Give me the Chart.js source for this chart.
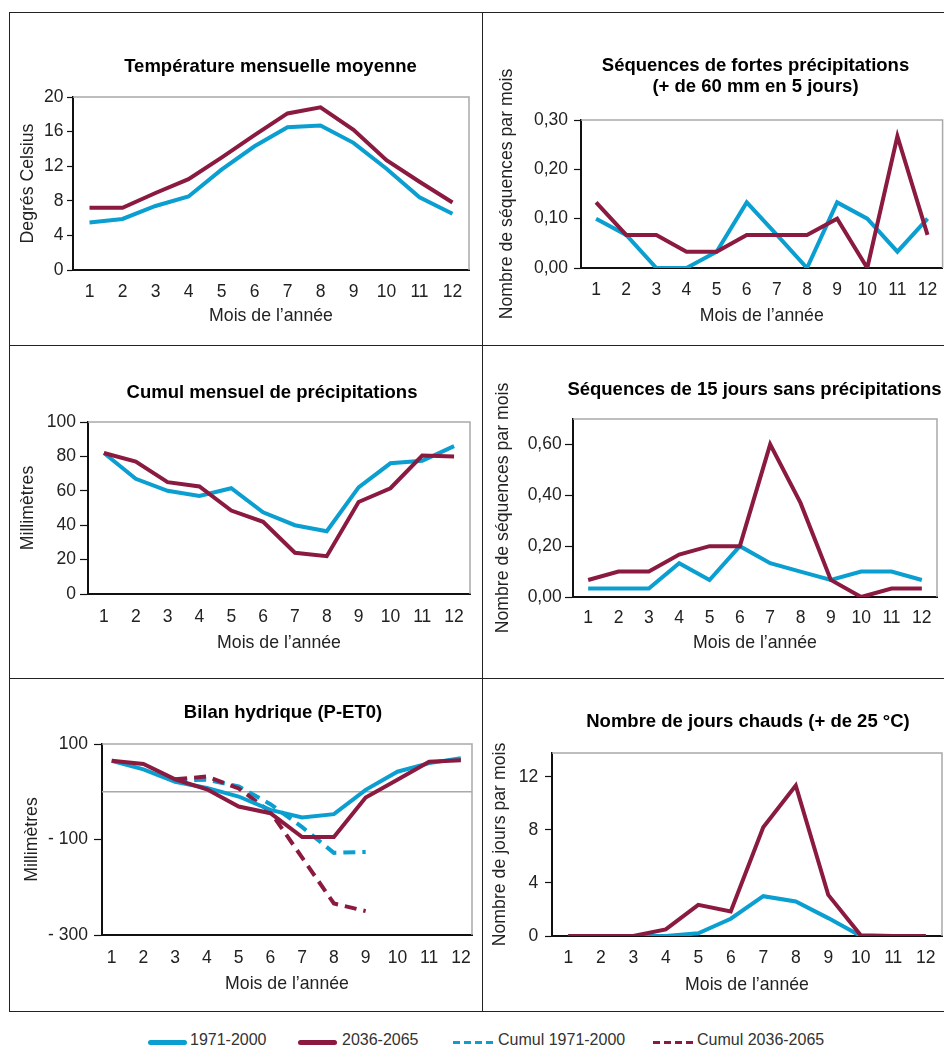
<!DOCTYPE html>
<html><head><meta charset="utf-8">
<script src="https://cdn.jsdelivr.net/npm/chart.js@4.4.1/dist/chart.umd.min.js"></script>
<style>
html,body{margin:0;padding:0;background:#fff;}
body{width:944px;height:1047px;position:relative;overflow:hidden;font-family:'Liberation Sans',Arial,sans-serif;}
.ln{position:absolute;background:#222;}
canvas{position:absolute;}
.lg{position:absolute;font-size:16px;line-height:16px;color:#333;white-space:nowrap;}
.sw{position:absolute;height:5px;border-radius:2.5px;}
.ds{position:absolute;height:3px;width:7px;}
</style></head><body>
<div class="ln" style="left:9px;top:12px;width:935px;height:1px"></div>
<div class="ln" style="left:9px;top:345px;width:935px;height:1px"></div>
<div class="ln" style="left:9px;top:678px;width:935px;height:1px"></div>
<div class="ln" style="left:9px;top:1011px;width:935px;height:1px"></div>
<div class="ln" style="left:9px;top:12px;width:1px;height:1000px"></div>
<div class="ln" style="left:482px;top:12px;width:1px;height:1000px"></div>

<div class="sw" style="left:148px;top:1040px;width:39px;background:#0a9fd0"></div>
<div class="lg" style="left:190px;top:1032px">1971-2000</div>
<div class="sw" style="left:298px;top:1040px;width:39px;background:#8b1a40"></div>
<div class="lg" style="left:342px;top:1032px">2036-2065</div>
<div class="ds" style="left:453px;top:1041px;background:#0a9fd0"></div>
<div class="ds" style="left:464px;top:1041px;background:#0a9fd0"></div>
<div class="ds" style="left:475px;top:1041px;background:#0a9fd0"></div>
<div class="ds" style="left:486px;top:1041px;background:#0a9fd0"></div>
<div class="lg" style="left:498px;top:1032px">Cumul 1971-2000</div>
<div class="ds" style="left:653px;top:1041px;background:#8b1a40"></div>
<div class="ds" style="left:664px;top:1041px;background:#8b1a40"></div>
<div class="ds" style="left:675px;top:1041px;background:#8b1a40"></div>
<div class="ds" style="left:686px;top:1041px;background:#8b1a40"></div>
<div class="lg" style="left:697px;top:1032px">Cumul 2036-2065</div>

<script>
// ---------- DATA ----------
const MONTHS = ['1','2','3','4','5','6','7','8','9','10','11','12'];
const MONTH_NUM = [1,2,3,4,5,6,7,8,9,10,11,12];

const temp1971 = [5.5, 5.9, 7.4, 8.5, 11.6, 14.3, 16.5, 16.7, 14.7, 11.7, 8.4, 6.5];
const temp2036 = [7.2, 7.2, 8.9, 10.5, 13.0, 15.6, 18.1, 18.8, 16.2, 12.7, 10.2, 7.8];

const heavy1971 = [0.100, 0.067, 0, 0, 0.033, 0.133, 0.067, 0, 0.133, 0.100, 0.033, 0.100];
const heavy2036 = [0.133, 0.067, 0.067, 0.033, 0.033, 0.067, 0.067, 0.067, 0.100, 0, 0.267, 0.067];

const precip1971 = [82, 67, 60, 57, 61.5, 47.5, 40, 36.5, 62, 76, 77.5, 86];
const precip2036 = [82, 77, 65, 62.5, 48.5, 42, 24, 22, 53.5, 61.5, 80.5, 80];

const dry1971 = [0.033, 0.033, 0.033, 0.133, 0.067, 0.200, 0.133, 0.100, 0.067, 0.100, 0.100, 0.067];
const dry2036 = [0.067, 0.100, 0.100, 0.167, 0.200, 0.200, 0.600, 0.370, 0.067, 0, 0.033, 0.033];

const bilan1971 = [65, 47, 21, 8, -10, -38, -54, -47, 4, 42, 60, 70];
const bilan2036 = [65, 58, 26, 5, -31, -45, -95, -95, -12, 25, 63, 66];
const cumul1971 = [null, null, 24, 25, 11, -26, -74, -128, -126, null, null, null];
const cumul2036 = [null, null, 26, 32, 7, -42, -138, -234, -250, null, null, null];

const hot1971 = [0, 0, 0, 0, 0.2, 1.3, 3.0, 2.6, 1.35, 0, 0, 0];
const hot2036 = [0, 0, 0, 0.5, 2.35, 1.85, 8.2, 11.35, 3.1, 0.05, 0, 0];

const BLUE = '#0a9fd0', RED = '#8b1a40';
const FONT = "'Liberation Sans', Arial, sans-serif";
Chart.defaults.font.family = FONT;

const plotFrame = {
  id: 'plotFrame',
  beforeDatasetsDraw(chart, args, opts) {
    const {ctx, chartArea: a, scales} = chart;
    ctx.save();
    ctx.strokeStyle = '#a9a9a9';
    ctx.lineWidth = 1.5;
    ctx.beginPath();
    ctx.moveTo(a.left, a.top); ctx.lineTo(a.right, a.top); ctx.lineTo(a.right, a.bottom);
    if (opts && opts.zero) {
      const y0 = scales.y.getPixelForValue(0);
      ctx.moveTo(a.left, y0); ctx.lineTo(a.right, y0);
    }
    ctx.stroke();
    ctx.restore();
  }
};

function line(data, color, dash, order) {
  return {data, borderColor: color, backgroundColor: color, borderWidth: 4, pointRadius: 0,
    tension: 0, fill: false, borderDash: dash || [], order, yAxisID: 'y', spanGaps: false};
}
const comma2 = v => v.toFixed(2).replace('.', ',');

function panel(o) {
  const boxRight = 2 * o.tc - o.cl;
  const W = Math.round(boxRight - o.cl), H = o.cb - o.ct;
  const N = boxRight - o.R;
  const lhF = o.titleLH || 1.2, tSize = 18.5, lh = lhF * tSize;
  const lines = Array.isArray(o.title) ? o.title.length : 1;
  const padTop = o.ty - o.ct - lh / 2;
  const padBottom = o.T - o.ct - padTop - lines * lh;
  const yWidth = o.L - o.cl, xHeight = o.cb - o.B;
  const cv = document.createElement('canvas');
  cv.width = W; cv.height = H;
  cv.style.left = o.cl + 'px'; cv.style.top = o.ct + 'px';
  cv.style.width = W + 'px'; cv.style.height = H + 'px';
  document.body.appendChild(cv);
  const tickFont = {size: 17.5, family: FONT};
  const axTitleFont = {size: 17.7, family: FONT};
  const xScale = {
    grid: {display: false, drawTicks: false},
    border: {display: true, color: '#111', width: 2},
    ticks: {color: '#222', font: tickFont, padding: o.xlPad, autoSkip: false, maxRotation: 0, minRotation: 0},
    title: {display: true, text: 'Mois de l’année', color: '#222', font: axTitleFont, padding: {top: 0, bottom: o.xtPad}},
    afterFit: s => { s.height = xHeight; }
  };
  if (o.linearX) {
    Object.assign(xScale, {type: 'linear', min: o.linearX[0], max: o.linearX[1]});
    Object.assign(xScale.ticks, {stepSize: 1, includeBounds: false, callback: v => MONTHS[v - 1]});
  } else {
    Object.assign(xScale, {type: 'category', offset: true});
  }
  return new Chart(cv, {
    type: 'line',
    data: {labels: MONTHS, datasets: o.datasets},
    options: {
      responsive: false, animation: false, events: [],
      layout: {padding: 0},
      plugins: {
        legend: {display: false}, tooltip: {enabled: false},
        title: {display: true, text: o.title, color: '#000',
          font: {size: tSize, weight: 'bold', lineHeight: lhF, family: FONT},
          padding: {top: padTop, bottom: padBottom}},
        plotFrame: {zero: !!o.zero}
      },
      scales: {
        x: xScale,
        y: {
          type: 'linear', position: 'left', min: o.min, max: o.max,
          ticks: {stepSize: o.step, includeBounds: false, callback: o.fmt || (v => String(v)),
            color: '#222', font: tickFont, padding: o.tickPad},
          grid: {display: true, drawOnChartArea: false, drawTicks: true, tickLength: o.tickLen, tickColor: '#111', tickWidth: 1.2},
          border: {display: true, color: '#111', width: 2},
          title: {display: true, text: o.ytitle, color: '#222', font: axTitleFont, padding: {top: o.ytPad, bottom: 0}},
          afterFit: s => { s.width = yWidth; }
        },
        yr: {
          type: 'linear', position: 'right', display: true,
          ticks: {display: false}, grid: {display: false, drawTicks: false}, border: {display: false},
          afterFit: s => { s.width = N; }
        }
      }
    },
    plugins: [plotFrame]
  });
}

// A: Température
panel({cl: 10, ct: 13, cb: 344, L: 73, R: 469, T: 97, B: 270, tc: 270.5, ty: 67,
  title: 'Température mensuelle moyenne', ytitle: 'Degrés Celsius',
  min: 0, max: 20, step: 4, tickLen: 6, tickPad: 3.5, ytPad: 7.8, xlPad: 11.2, xtPad: 16.8,
  datasets: [line(temp1971, BLUE, null, 1), line(temp2036, RED, null, 0)]});

// B: fortes précipitations
panel({cl: 483, ct: 13, cb: 344, L: 581, R: 943, T: 120, B: 268, tc: 755.7, ty: 66, titleLH: 1.15,
  title: ['Séquences de fortes précipitations', '(+ de 60 mm en 5 jours)'], ytitle: 'Nombre de séquences par mois',
  min: 0, max: 0.30, step: 0.10, fmt: comma2, tickLen: 7, tickPad: 6, ytPad: 13.2, xlPad: 11.5, xtPad: 16.8,
  datasets: [line(heavy1971, BLUE, null, 1), line(heavy2036, RED, null, 0)]});

// C: Cumul mensuel
panel({cl: 10, ct: 346, cb: 677, L: 88, R: 470, T: 422, B: 594, tc: 272, ty: 393.3,
  title: 'Cumul mensuel de précipitations', ytitle: 'Millimètres',
  min: 0, max: 100, step: 20, tickLen: 8, tickPad: 4, ytPad: 7.8, xlPad: 12.2, xtPad: 23.2,
  datasets: [line(precip1971, BLUE, null, 1), line(precip2036, RED, null, 0)]});

// D: 15 jours sans précipitations
panel({cl: 483, ct: 346, cb: 677, L: 573, R: 937, T: 419, B: 597, tc: 754.5, ty: 390,
  title: 'Séquences de 15 jours sans précipitations', ytitle: 'Nombre de séquences par mois',
  min: 0, max: 0.70, step: 0.20, fmt: comma2, tickLen: 8, tickPad: 3.3, ytPad: 9.8, xlPad: 10.8, xtPad: 23.2,
  datasets: [line(dry1971, BLUE, null, 1), line(dry2036, RED, null, 0)]});

// E: Bilan hydrique
const pts = arr => arr.map((v, i) => ({x: MONTH_NUM[i], y: v}));
panel({cl: 10, ct: 679, cb: 1010, L: 102, R: 472, T: 744, B: 935, tc: 283, ty: 713.3,
  title: 'Bilan hydrique (P-ET0)', ytitle: 'Millimètres', linearX: [0.695, 12.35], zero: true,
  min: -300, max: 100, step: 200, fmt: v => (v < 0 ? '- ' + Math.abs(v) : String(v)),
  tickLen: 8, tickPad: 6, ytPad: 11.2, xlPad: 12.2, xtPad: 15.5,
  datasets: [line(pts(cumul1971), BLUE, [12, 7], 3), line(pts(cumul2036), RED, [12, 7], 2),
             line(pts(bilan1971), BLUE, null, 1), line(pts(bilan2036), RED, null, 0)]});

// F: jours chauds
panel({cl: 483, ct: 679, cb: 1010, L: 552, R: 942, T: 753, B: 936, tc: 748, ty: 722.3,
  title: 'Nombre de jours chauds (+ de 25 °C)', ytitle: 'Nombre de jours par mois',
  min: 0, max: 13.8, step: 4, tickLen: 7, tickPad: 6.7, ytPad: 6.5, xlPad: 11.2, xtPad: 14.5,
  datasets: [line(hot1971, BLUE, null, 1), line(hot2036, RED, null, 0)]});
</script>
</body></html>
